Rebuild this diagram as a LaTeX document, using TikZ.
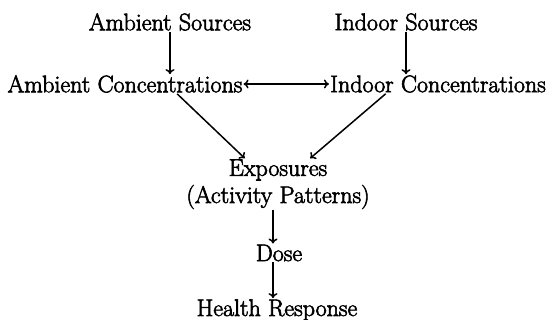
\documentclass[tikz,border=0pt]{standalone}
\usepackage{fontspec}
\newfontfamily\heavyfont{Latin Modern Roman}[FakeBold=2.5]
\usetikzlibrary{arrows.meta,calc}
\begin{document}
\begin{tikzpicture}[x=1pt,y=-1pt,
  lbl/.style={inner sep=1pt,font=\heavyfont\fontsize{24}{26}\selectfont},
  arr/.style={line width=1.5pt,-{To[length=5pt,width=9pt]}},
  darr/.style={line width=1.5pt,{To[length=5pt,width=9pt]}-{To[length=5pt,width=9pt]}}]
\useasboundingbox (0,0) rectangle (550,320);
\node[lbl] (as) at (170,22) {Ambient Sources};
\node[lbl] (is) at (406,22) {Indoor Sources};
\node[lbl] (ac) at (125,84) {Ambient Concentrations};
\node[lbl] (ic) at (438,84) {Indoor Concentrations};
\node[lbl] (ex) at (278,170) {Exposures};
\node[lbl] (ap) at (278,197) {(Activity Patterns)};
\node[lbl] (do) at (279,253) {Dose};
\node[lbl] (hr) at (277,310) {Health Response};
\draw[arr] (as.south) -- (as.south |- ac.north);
\draw[arr] (is.south) -- (is.south |- ic.north);
\draw[darr] (ac.east) -- (ic.west);
\draw[arr] ($(ac.south west)!0.72!(ac.south east)$) -- ($(ex.north west)!0.17!(ex.north east)$);
\draw[arr] ($(ic.south west)!0.26!(ic.south east)$) -- ($(ex.north west)!0.82!(ex.north east)$);
\draw[arr] ($(ap.south)+(-5,0)$) -- ($(do.north)+(-6,0)$);
\draw[arr] ($(do.south)+(-6,0)$) -- ($(hr.north)+(-4,0)$);
\end{tikzpicture}
\end{document}
